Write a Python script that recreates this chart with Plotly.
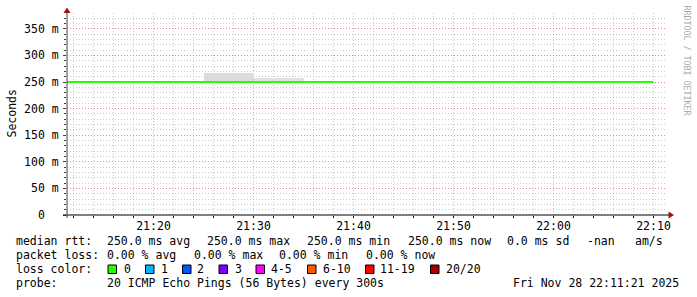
import plotly.graph_objects as go

DAY = "2025-11-28 "

# ---- data ----
median_times = ["21:10", "21:15", "21:20", "21:25", "21:30", "21:35", "21:40",
                "21:45", "21:50", "21:55", "22:00", "22:05", "22:10"]
median_rtt_ms = [250.0, 250.0, 250.0, 250.0, 250.0, 250.0, 250.0,
                 250.0, 250.0, 250.0, 250.0, 250.0, 250.0]

smoke_times = ["21:30", "21:35"]          # end of each 300 s step
smoke_low_ms = [250.0, 250.0]
smoke_high_ms = [267.3, 257.9]

y_tick_vals = [0, 50, 100, 150, 200, 250, 300, 350]
y_tick_text = ["0\u00a0\u00a0", "50 m", "100 m", "150 m", "200 m", "250 m", "300 m", "350 m"]

loss_labels = ["0", "1", "2", "3", "4-5", "6-10", "11-19", "20/20"]
loss_colors = ["#26ff00", "#00b8ff", "#0059ff", "#7e00ff", "#ff00ff", "#ff5500", "#ff0000", "#a00000"]

legend_rows = [
    [("median rtt:", 16), ("250.0 ms avg", 107), ("250.0 ms max", 207), ("250.0 ms min", 307),
     ("250.0 ms now", 407.5), ("0.0 ms sd", 507), ("-nan", 586.5), ("am/s", 635)],
    [("packet loss:", 16), ("0.00 % avg", 107), ("0.00 % max", 194), ("0.00 % min", 279),
     ("0.00 % now", 365.5)],
    [("loss color:", 16)],
    [("probe:", 16), ("20 ICMP Echo Pings (56 Bytes) every 300s", 107),
     ("Fri Nov 28 22:11:21 2025", 513)],
]
legend_row_y = [241.5, 255.2, 269, 282.7]
loss_box_x = [108, 145.5, 182.5, 219, 256, 307.5, 365.5, 430.5]
loss_text_x = [124, 161, 197, 234.5, 271, 322.5, 380, 445.5]

# ---- geometry (pixels) ----
W, H = 697, 297
PL, PR, PT, PB = 67, 667, 13, 215


def px(x):
    return (x - PL) / (PR - PL)


def py(y):
    return (PB - y) / (PB - PT)


MONO = "DejaVu Sans Mono"
FS = 11.5

fig = go.Figure()

fig.add_trace(go.Bar(
    x=[DAY + t for t in smoke_times],
    y=[h - l for h, l in zip(smoke_high_ms, smoke_low_ms)],
    base=smoke_low_ms,
    width=300000, offset=-300000,
    marker=dict(color=["#dcdcdc", "#e2e2e2"], line=dict(width=0)),
    showlegend=False, hoverinfo="skip",
))

fig.add_trace(go.Scatter(
    x=[DAY + t for t in median_times],
    y=median_rtt_ms,
    mode="lines",
    line=dict(color=loss_colors[0], width=2),
    showlegend=False, hoverinfo="skip",
))

grid_minor = "rgba(150,150,150,0.5)"
grid_major = "rgba(225,90,90,0.5)"

fig.update_layout(
    width=W, height=H,
    margin=dict(l=PL, r=W - PR, t=PT, b=H - PB, pad=0),
    paper_bgcolor="white", plot_bgcolor="white",
    font=dict(family=MONO, size=FS, color="#000"),
    showlegend=False,
    bargap=0,
    xaxis=dict(
        type="date",
        range=[DAY + "21:11:21", DAY + "22:11:21"],
        tick0=DAY + "21:00", dtick=600000, tickformat="%H:%M",
        showgrid=True, gridcolor=grid_major, griddash="1px,2px", gridwidth=1,
        ticks="outside", ticklen=2, tickcolor="#000",
        minor=dict(dtick=120000, tick0=DAY + "21:00", showgrid=True, gridcolor=grid_minor,
                   griddash="1px,2px", ticks="outside", ticklen=2, tickcolor="#000"),
        zeroline=False, showline=False,
        tickfont=dict(family=MONO, size=FS, color="#000"),
        ticklabelstandoff=-2,
        fixedrange=True,
    ),
    yaxis=dict(
        range=[0, 379.7],
        tickmode="array", tickvals=y_tick_vals, ticktext=y_tick_text,
        showgrid=True, gridcolor=grid_major, griddash="1px,2px", gridwidth=1,
        ticks="outside", ticklen=3, tickcolor="#444",
        minor=dict(dtick=10, tick0=0, showgrid=True, gridcolor=grid_minor,
                   griddash="1px,2px", ticks="outside", ticklen=2, tickcolor="#444"),
        zeroline=False, showline=False,
        tickfont=dict(family=MONO, size=FS, color="#000"),
        ticklabelstandoff=2,
        fixedrange=True,
    ),
)

shapes = []
# axis lines
shapes.append(dict(type="line", xref="paper", yref="paper", x0=px(63), x1=px(669),
                   y0=py(215), y1=py(215), line=dict(color="#000", width=1), layer="above"))
shapes.append(dict(type="line", xref="paper", yref="paper", x0=px(67), x1=px(67),
                   y0=py(218), y1=py(11), line=dict(color="#444", width=1), layer="above"))
# arrows
shapes.append(dict(type="path", xref="paper", yref="paper",
                   path=f"M {px(67)} {py(7.5)} L {px(63.5)} {py(13)} L {px(70.5)} {py(13)} Z",
                   fillcolor="#a01010", line=dict(width=0), layer="above"))
shapes.append(dict(type="path", xref="paper", yref="paper",
                   path=f"M {px(674)} {py(215)} L {px(668.5)} {py(211.5)} L {px(668.5)} {py(218.5)} Z",
                   fillcolor="#a01010", line=dict(width=0), layer="above"))
# loss colour boxes
for bx, col in zip(loss_box_x, loss_colors):
    shapes.append(dict(type="rect", xref="paper", yref="paper",
                       x0=px(bx), x1=px(bx + 8.5), y0=py(273.5), y1=py(265),
                       fillcolor=col, line=dict(color="#000", width=1), layer="above"))

annotations = []


def text(s, x, y, **kw):
    d = dict(text=s, xref="paper", yref="paper", x=px(x), y=py(y), showarrow=False,
             xanchor="left", yanchor="middle", borderpad=0,
             font=dict(family=MONO, size=FS, color="#000"))
    d.update(kw)
    annotations.append(d)


for row, yy in zip(legend_rows, legend_row_y):
    for s, xx in row:
        text(s, xx - 1, yy)
for xx, lbl in zip(loss_text_x, loss_labels):
    text(lbl, xx - 1, legend_row_y[2])

# y-axis title
annotations.append(dict(text="Seconds", xref="paper", yref="paper", x=px(11.5), y=py(114),
                        showarrow=False, textangle=-90, xanchor="center", yanchor="middle",
                        font=dict(family=MONO, size=FS, color="#000")))
# watermark
annotations.append(dict(text="RRDTOOL / TOBI OETIKER", xref="paper", yref="paper",
                        x=px(686.5), y=py(60), showarrow=False, textangle=90,
                        xanchor="center", yanchor="middle",
                        font=dict(family=MONO, size=8.3, color="#aaaaaa")))

fig.update_layout(shapes=shapes, annotations=annotations)

fig.write_html("out.html")
